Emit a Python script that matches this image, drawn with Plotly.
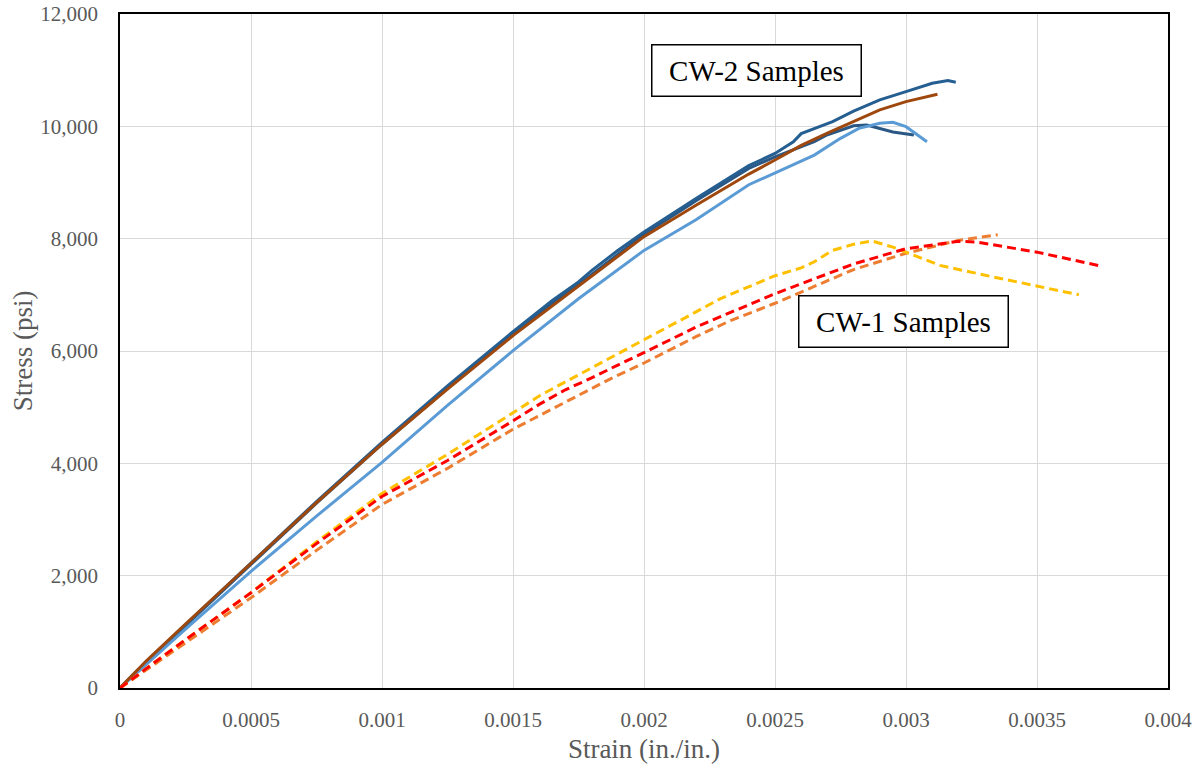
import plotly.graph_objects as go

# CW-2 samples (solid)
cw2a_strain = [0, 0.0001, 0.00025, 0.0005, 0.00075, 0.001, 0.00125, 0.0015, 0.0016, 0.00165, 0.00175, 0.0018, 0.0019, 0.002, 0.0022, 0.0024, 0.0025, 0.00257, 0.0026, 0.00265, 0.00272, 0.0028, 0.0029, 0.003, 0.0031, 0.00316, 0.00319]
cw2a_stress = [0, 470, 1130, 2230, 3320, 4375, 5380, 6345, 6720, 6900, 7230, 7430, 7790, 8119, 8720, 9300, 9518, 9726, 9870, 9964, 10083, 10270, 10470, 10619, 10768, 10815, 10786]

cw2b_strain = [0, 0.0001, 0.00025, 0.0005, 0.00075, 0.001, 0.00125, 0.0015, 0.00165, 0.00175, 0.002, 0.0022, 0.0024, 0.0025, 0.00265, 0.0027, 0.0028, 0.00285, 0.0029, 0.00295, 0.00303]
cw2b_stress = [0, 460, 1110, 2200, 3290, 4340, 5340, 6300, 6850, 7180, 8080, 8680, 9250, 9458, 9726, 9850, 10010, 10024, 9964, 9900, 9845]

cw2c_strain = [0, 0.0001, 0.00025, 0.0005, 0.00075, 0.001, 0.00125, 0.0015, 0.00175, 0.002, 0.0022, 0.0024, 0.00265, 0.00275, 0.00282, 0.0029, 0.00295, 0.003, 0.00308]
cw2c_stress = [0, 420, 1050, 2077, 3060, 4018, 5030, 6006, 6930, 7791, 8340, 8960, 9488, 9786, 9964, 10054, 10071, 9994, 9726]

cw2d_strain = [0, 0.0001, 0.00025, 0.0005, 0.00075, 0.001, 0.00125, 0.0015, 0.00175, 0.002, 0.0022, 0.0024, 0.0025, 0.0026, 0.0027, 0.0028, 0.0029, 0.003, 0.00312]
cw2d_stress = [0, 480, 1140, 2220, 3300, 4340, 5320, 6274, 7150, 8036, 8600, 9150, 9400, 9660, 9880, 10090, 10292, 10440, 10571]

# CW-1 samples (dashed)
cw1a_strain = [0, 0.00025, 0.0005, 0.00075, 0.001, 0.00125, 0.0015, 0.0016, 0.0017, 0.0019, 0.002, 0.0022, 0.00229, 0.0025, 0.0026, 0.00265, 0.00272, 0.0028, 0.00287, 0.00295, 0.003, 0.00313, 0.00333, 0.00366]
cw1a_stress = [0, 860, 1696, 2600, 3464, 4160, 4900, 5200, 5450, 5960, 6200, 6700, 6929, 7340, 7480, 7589, 7791, 7900, 7958, 7850, 7760, 7524, 7321, 7000]

cw1b_strain = [0, 0.00025, 0.0005, 0.00075, 0.001, 0.00125, 0.0015, 0.0016, 0.0017, 0.0018, 0.0019, 0.002, 0.0022, 0.0025, 0.0028, 0.003, 0.0032, 0.00327, 0.0035, 0.00375]
cw1b_stress = [0, 860, 1696, 2570, 3411, 4050, 4756, 5050, 5310, 5520, 5750, 5970, 6430, 7020, 7550, 7821, 7952, 7940, 7760, 7506]

cw1c_strain = [0, 0.00025, 0.0005, 0.00075, 0.001, 0.00125, 0.0015, 0.00187, 0.002, 0.0022, 0.00233, 0.0025, 0.0028, 0.003, 0.0032, 0.00335]
cw1c_stress = [0, 810, 1607, 2450, 3268, 3911, 4607, 5500, 5786, 6260, 6541, 6850, 7450, 7740, 7970, 8071]

x_ticks = [0, 0.0005, 0.001, 0.0015, 0.002, 0.0025, 0.003, 0.0035, 0.004]
x_tick_labels = ["0", "0.0005", "0.001", "0.0015", "0.002", "0.0025", "0.003", "0.0035", "0.004"]
y_ticks = [0, 2000, 4000, 6000, 8000, 10000, 12000]
y_tick_labels = ["0", "2,000", "4,000", "6,000", "8,000", "10,000", "12,000"]

FONT = "Liberation Serif"

fig = go.Figure()
solid = [
    (cw2b_strain, cw2b_stress, "#2A5783", 3),
    (cw2a_strain, cw2a_stress, "#255E91", 3),
    (cw2c_strain, cw2c_stress, "#5B9BD5", 3),
    (cw2d_strain, cw2d_stress, "#9E480E", 3),
]
for xs, ys, c, w in solid:
    fig.add_trace(go.Scatter(x=xs, y=ys, mode="lines", line=dict(color=c, width=w), showlegend=False))
dashed = [
    (cw1c_strain, cw1c_stress, "#ED7D31"),
    (cw1a_strain, cw1a_stress, "#FFC000"),
    (cw1b_strain, cw1b_stress, "#FF0000"),
]
for xs, ys, c in dashed:
    fig.add_trace(go.Scatter(x=xs, y=ys, mode="lines", line=dict(color=c, width=3, dash="9px,5px"), showlegend=False))

fig.add_annotation(x=0.002431, y=10991, xref="x", yref="y", text="CW-2 Samples",
                   showarrow=False, font=dict(family=FONT, size=29, color="black"),
                   bordercolor="black", borderwidth=1.5, borderpad=2, bgcolor="white",
                   width=204, height=46)
fig.add_annotation(x=0.002989, y=6518, xref="x", yref="y", text="CW-1 Samples",
                   showarrow=False, font=dict(family=FONT, size=29, color="black"),
                   bordercolor="black", borderwidth=1.5, borderpad=2, bgcolor="white",
                   width=204, height=46)

axis_common = dict(showgrid=True, gridcolor="#D9D9D9", gridwidth=1, zeroline=False,
                   showline=True, linecolor="black", linewidth=1.5, mirror=True,
                   tickfont=dict(family=FONT, size=21, color="#595959"), ticks="")

fig.update_xaxes(range=[0, 0.004], tickmode="array", tickvals=x_ticks, ticktext=x_tick_labels,
                 title=dict(text="Strain (in./in.)", font=dict(family=FONT, size=27, color="#595959"), standoff=8),
                 ticklabelstandoff=12, **axis_common)
fig.update_yaxes(range=[0, 12000], tickmode="array", tickvals=y_ticks, ticktext=y_tick_labels,
                 title=dict(text="Stress (psi)", font=dict(family=FONT, size=27, color="#595959"), standoff=0),
                 ticklabelstandoff=16, **axis_common)

fig.update_layout(width=1201, height=767, margin=dict(l=120, r=33, t=14, b=79, autoexpand=False),
                  font=dict(family=FONT),
                  paper_bgcolor="white", plot_bgcolor="white", showlegend=False)

fig.write_html("out.html")
